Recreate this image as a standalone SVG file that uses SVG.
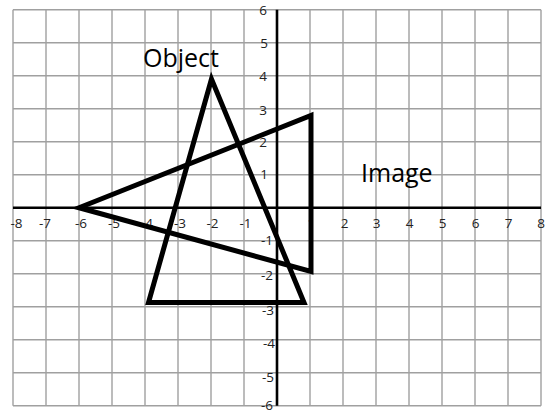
<svg xmlns="http://www.w3.org/2000/svg" width="548" height="414" viewBox="0 0 548 414">
<style>
.grid{stroke:#a0a0a0;stroke-width:1.4;fill:none}
.axis{stroke:#000;stroke-width:2.6;fill:none}
.tri{stroke:#000;stroke-width:5;fill:none;stroke-linejoin:miter}
.tick{font-family:"Open Sans","Liberation Sans",sans-serif;font-size:13.5px;fill:#222}
.lbl{font-family:"Open Sans","Liberation Sans",sans-serif;font-size:25px;fill:#000}
</style>
<rect width="548" height="414" fill="#fff"/>
<g id="grid" class="grid">
<path d="M13 9.7V405.7M46 9.7V405.7M79 9.7V405.7M112 9.7V405.7M145 9.7V405.7M178 9.7V405.7M211 9.7V405.7M244 9.7V405.7M277 9.7V405.7M310 9.7V405.7M343 9.7V405.7M376 9.7V405.7M409 9.7V405.7M442 9.7V405.7M475 9.7V405.7M508 9.7V405.7M541 9.7V405.7"/>
<path d="M13 9.7H541M13 42.7H541M13 75.7H541M13 108.7H541M13 141.7H541M13 174.7H541M13 207.7H541M13 240.7H541M13 273.7H541M13 306.7H541M13 339.7H541M13 372.7H541M13 405.7H541"/>
</g>
<g id="axes" class="axis">
<path d="M13 207.7H541"/>
<path d="M277 9.7V405.7"/>
</g>
<g id="x-labels" class="tick" text-anchor="middle">
<text x="16.5" y="228">-8</text>
<text x="45" y="228">-7</text>
<text x="81" y="228">-6</text>
<text x="114" y="228">-5</text>
<text x="147" y="228">-4</text>
<text x="180" y="228">-3</text>
<text x="212.5" y="228">-2</text>
<text x="245.5" y="228">-1</text>
<text x="311" y="228">1</text>
<text x="344.5" y="228">2</text>
<text x="376.5" y="228">3</text>
<text x="409.5" y="228">4</text>
<text x="442.5" y="228">5</text>
<text x="475.5" y="228">6</text>
<text x="508.5" y="228">7</text>
<text x="541" y="228">8</text>
</g>
<g id="y-labels" class="tick" text-anchor="end">
<text x="267" y="15">6</text>
<text x="268" y="48">5</text>
<text x="267" y="81">4</text>
<text x="267" y="115">3</text>
<text x="267" y="147">2</text>
<text x="268" y="179">1</text>
<text x="273" y="245">-1</text>
<text x="273" y="280">-2</text>
<text x="274" y="315">-3</text>
<text x="275" y="348">-4</text>
<text x="274" y="381.5">-5</text>
<text x="273" y="410">-6</text>
</g>
<g id="object">
<polygon class="tri" points="211.5,79 148.5,302.5 304,302.5"/>
<text class="lbl" x="143" y="67">Object</text>
</g>
<g id="image">
<polygon class="tri" points="79,207.7 311,115.5 311,271.5"/>
<text class="lbl" x="361" y="182">Image</text>
</g>
</svg>
